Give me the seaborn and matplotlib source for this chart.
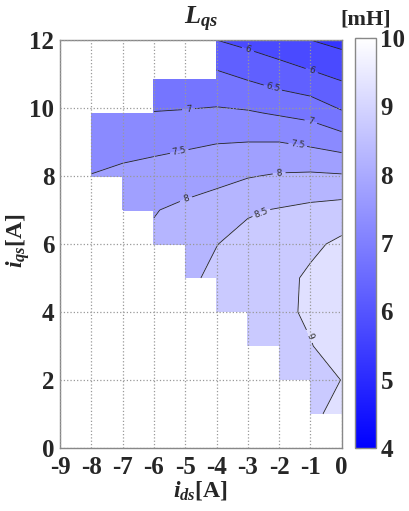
import numpy as np
import matplotlib
matplotlib.use("Agg")
import matplotlib.pyplot as plt
from matplotlib.colors import Normalize
from matplotlib.cm import ScalarMappable
import seaborn as sns

nan = np.nan

# grid of measured points
id_vals = [-8, -7, -6, -5, -4, -3, -2, -1, 0]
iq_vals = [0, 1, 2, 3, 4, 5, 6, 7, 8, 9, 9.85, 10.85, 12]

# L_qs [mH] rows for each iq value (columns follow id_vals)
L_iq00 = [nan, nan, nan, nan, nan, nan, nan, nan, nan]
L_iq01 = [nan, nan, nan, nan, nan, nan, nan, 8.80, 9.30]
L_iq02 = [nan, nan, nan, nan, nan, nan, 8.55, 8.75, 9.01]
L_iq03 = [nan, nan, nan, nan, nan, 8.60, 8.75, 8.97, 9.30]
L_iq04 = [nan, nan, nan, nan, 8.60, 8.70, 8.85, 9.10, 9.40]
L_iq05 = [nan, nan, nan, 8.40, 8.60, 8.72, 8.85, 9.08, 9.35]
L_iq06 = [nan, nan, 8.10, 8.30, 8.49, 8.65, 8.75, 8.90, 9.10]
L_iq07 = [nan, 7.85, 7.97, 8.13, 8.25, 8.45, 8.53, 8.62, 8.70]
L_iq08 = [7.52, 7.62, 7.70, 7.72, 7.85, 7.97, 8.05, 8.08, 8.05]
L_iq09 = [7.20, 7.30, 7.35, 7.43, 7.48, 7.50, 7.50, 7.40, 7.25]
L_iq10a = [7.02, 7.05, 7.02, 7.05, 7.08, 7.05, 6.95, 6.85, 6.55]
L_iq11a = [nan, nan, 6.60, 6.58, 6.65, 6.48, 6.30, 6.15, 5.97]
L_iq12 = [nan, nan, nan, nan, 6.00, 5.85, 5.70, 5.50, 5.35]

x_ticks = [-9, -8, -7, -6, -5, -4, -3, -2, -1, 0]
y_ticks = [0, 2, 4, 6, 8, 10, 12]
cbar_ticks = [4, 5, 6, 7, 8, 9, 10]
fill_levels = [4, 4.5, 5, 5.5, 6, 6.5, 7, 7.5, 8, 8.5, 9, 9.5, 10]
line_levels = [5.5, 6, 6.5, 7, 7.5, 8, 8.5, 9]

Z = np.ma.masked_invalid(np.array([L_iq00, L_iq01, L_iq02, L_iq03, L_iq04, L_iq05,
                                   L_iq06, L_iq07, L_iq08, L_iq09, L_iq10a, L_iq11a,
                                   L_iq12]))
X, Y = np.meshgrid(id_vals, iq_vals)

sns.set_theme(style="white")
plt.rcParams['font.family'] = ['Liberation Serif', 'DejaVu Serif']
plt.rcParams['font.weight'] = 'bold'
plt.rcParams['axes.unicode_minus'] = False
plt.rcParams['mathtext.fontset'] = 'custom'
plt.rcParams['mathtext.it'] = 'Liberation Serif:italic:bold'
plt.rcParams['mathtext.rm'] = 'Liberation Serif:bold'

cmap = sns.blend_palette(["#0000ff", "#ffffff"], as_cmap=True)
norm = Normalize(vmin=4, vmax=10)

fig = plt.figure(figsize=(4.09, 5.11), dpi=100)
ax = fig.add_axes([0.1467, 0.1233, 0.6888, 0.7984])
cax = fig.add_axes([0.868, 0.1233, 0.052, 0.8023])

ax.contourf(X, Y, Z, levels=fill_levels, cmap=cmap, norm=norm, corner_mask=False)
cs = ax.contour(X, Y, Z, levels=line_levels, colors='#222222', linewidths=0.6,
                corner_mask=False)
label_pos = [(-0.9, 11.3), (-3.0, 11.7), (-2.2, 10.6), (-4.9, 10.04), (-1.0, 9.55),
             (-5.2, 8.77), (-1.4, 8.95), (-5.0, 7.4), (-2.0, 8.1), (-2.6, 7.0),
             (-1.0, 3.3)]
texts = ax.clabel(cs, fmt='%g', fontsize=6.5, inline=True, manual=label_pos)
for t in texts:
    t.set_fontfamily('DejaVu Sans')
    t.set_fontweight('normal')
    t.set_color('#333333')

ax.set_xlim(-9, 0)
ax.set_ylim(0, 12)
ax.set_xticks(x_ticks)
ax.set_yticks(y_ticks)
ax.set_axisbelow(False)
ax.grid(True, color='#999999', linestyle=':', linewidth=0.9)
ax.tick_params(length=0, labelsize=18)
ax.tick_params(axis='x', pad=6)
ax.tick_params(axis='y', pad=4)
for lab in ax.get_xticklabels() + ax.get_yticklabels():
    lab.set_fontweight('bold')
for s in ax.spines.values():
    s.set_visible(True)
    s.set_color('#888888')
    s.set_linewidth(1.0)

cb = fig.colorbar(ScalarMappable(norm=norm, cmap=cmap), cax=cax, ticks=cbar_ticks)
cb.outline.set_edgecolor('#888888')
cb.outline.set_linewidth(1.0)
cax.tick_params(direction='in', length=4, width=0.8, color='#777777',
                left=True, right=True, labelsize=18, pad=3)
for lab in cax.get_yticklabels():
    lab.set_fontweight('bold')

fig.text(0.492, 0.961, r'$L_{qs}$', ha='center', va='center', fontsize=19)
fig.text(0.895, 0.961, '[mH]', ha='center', va='center', fontsize=16, fontweight='bold')
fig.text(0.49, 0.04, r'$i_{ds}$[A]', ha='center', va='center', fontsize=17, fontweight='bold')
fig.text(0.045, 0.53, r'$i_{qs}$[A]', ha='center', va='center', fontsize=17,
         fontweight='bold', rotation=90)

fig.savefig('out.png', dpi=100)
